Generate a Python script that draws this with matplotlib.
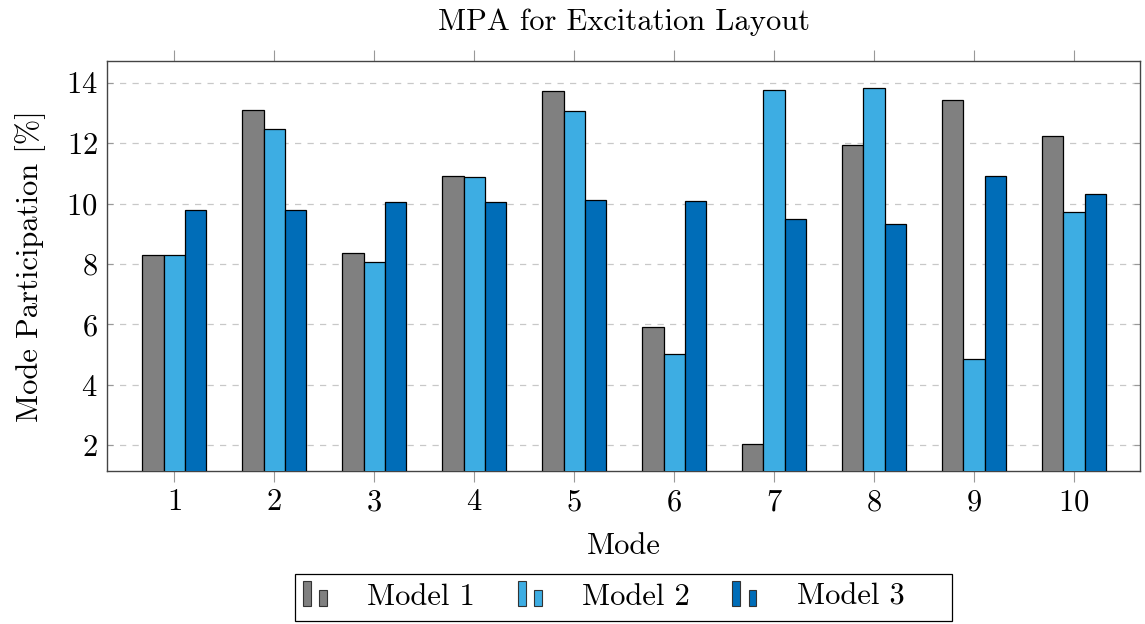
import numpy as np
import matplotlib
matplotlib.use("Agg")
import matplotlib.pyplot as plt
from matplotlib.patches import Rectangle
from matplotlib.legend_handler import HandlerBase

plt.rcParams['font.family'] = ['cmr10', 'DejaVu Serif']
plt.rcParams['mathtext.fontset'] = 'cm'
plt.rcParams['axes.formatter.use_mathtext'] = True

# ---- data ----
modes = [1, 2, 3, 4, 5, 6, 7, 8, 9, 10]
model1 = [8.30, 13.11, 8.35, 10.93, 13.72, 5.92, 2.04, 11.95, 13.42, 12.24]
model2 = [8.29, 12.48, 8.07, 10.88, 13.07, 5.03, 13.76, 13.83, 4.85, 9.73]
model3 = [9.78, 9.78, 10.07, 10.07, 10.13, 10.09, 9.48, 9.34, 10.90, 10.31]
labels = ['Model 1', 'Model 2', 'Model 3']
colors = ['#808080', '#3DADE3', '#006DB8']

FS = 22


class TwoBarHandler(HandlerBase):
    # pgfplots-style ybar legend image: one tall bar, one short bar
    def create_artists(self, legend, orig_handle, xdescent, ydescent,
                       width, height, fontsize, trans):
        fc = orig_handle.get_facecolor()
        w = width * 0.32
        y0 = -ydescent - 0.1 * height
        r1 = Rectangle((-xdescent, y0), w, height * 1.25,
                       facecolor=fc, edgecolor='#333333', lw=0.8, transform=trans)
        r2 = Rectangle((-xdescent + width * 0.66, y0), w, height * 0.8,
                       facecolor=fc, edgecolor='#333333', lw=0.8, transform=trans)
        return [r1, r2]


W, H = 1145, 624
fig = plt.figure(figsize=(W / 100, H / 100), dpi=100)
ax = fig.add_axes([0.0937, 0.2457, 0.9019, 0.657])

x = np.array(modes, dtype=float)
bw = 0.212
bars = []
for i, (vals, lab, col) in enumerate(zip([model1, model2, model3], labels, colors)):
    b = ax.bar(x + (i - 1) * bw, vals, bw, color=col, edgecolor='black',
               linewidth=0.9, label=lab, zorder=3)
    bars.append(b)

ax.set_xlim(0.33, 10.66)
ax.set_ylim(1.16, 14.73)
ax.set_xticks(modes)
ax.set_yticks([2, 4, 6, 8, 10, 12, 14])
ax.yaxis.grid(True, linestyle=(0, (5, 5)), color='#c8c8c8', linewidth=0.9, zorder=0)

for s in ax.spines.values():
    s.set_color('#444444')
    s.set_linewidth(1.0)

ax.tick_params(axis='x', direction='out', length=8, color='#999999',
               top=True, labelsize=FS, pad=5)
ax.tick_params(axis='y', direction='in', length=4, color='#999999',
               right=True, labelsize=FS, pad=7)

ax.set_title('MPA for Excitation Layout', fontsize=FS, pad=22)
ax.set_xlabel('Mode', fontsize=FS, labelpad=12)
ax.set_ylabel('Mode Participation [%]', fontsize=FS, labelpad=14)

# legend entries without their own frame; the box is drawn separately
leg = fig.legend(handles=[b.patches[0] for b in bars], labels=labels,
                 handler_map={Rectangle: TwoBarHandler()},
                 loc='center left', bbox_to_anchor=(303 / W, 1 - 597 / H), ncol=3,
                 fontsize=FS, frameon=False, handlelength=0.8, handletextpad=1.3,
                 columnspacing=1.4, borderpad=0.0, borderaxespad=0.0,
                 handleheight=0.6)
fig.patches.append(Rectangle((295 / W, 1 - 621 / H), 657 / W, 47 / H,
                             transform=fig.transFigure, facecolor='none',
                             edgecolor='black', linewidth=0.9))

fig.savefig('out.png', dpi=100)
